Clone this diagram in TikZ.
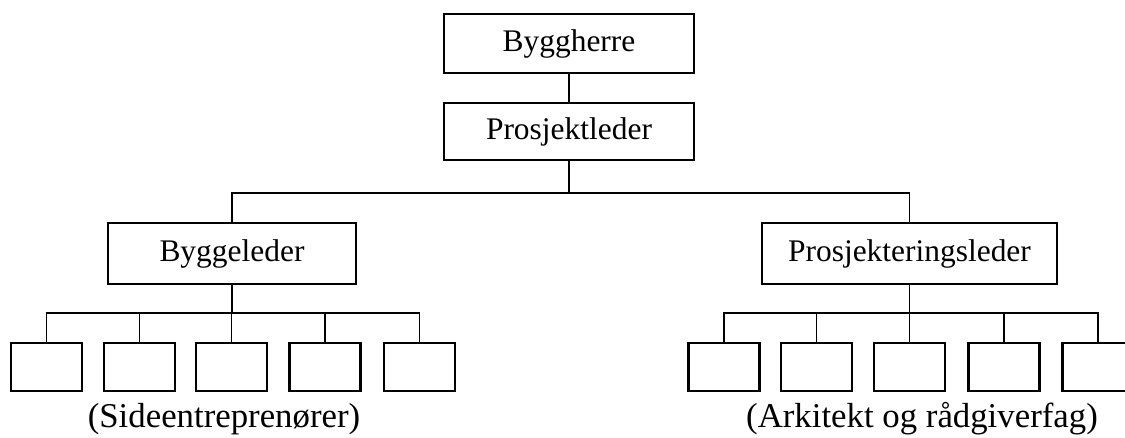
\documentclass[tikz,border=0pt]{standalone}
\usepackage{fontspec}
\setmainfont{Liberation Serif}
\usepackage{tikz}

\begin{document}
\begin{tikzpicture}[x=0.02cm, y=-0.02cm,
    chief/.style={draw=black, line width=1.3pt, minimum height=1.2cm, inner sep=0pt, font=\fontsize{17.9}{20}\selectfont},
    leaf/.style={draw=black, line width=1.3pt, minimum width=1.42cm, minimum height=0.96cm, inner sep=0pt},
    wire/.style={draw=black, line width=0.6pt},
    groupnote/.style={anchor=base, font=\fontsize{19.8}{22}\selectfont}]
\useasboundingbox (0,0) rectangle (1125,438);
\clip (0,0) rectangle (1125,438);

\node[chief, minimum width=5cm, minimum height=1.19cm] (byggherre) at (569, 43.5) {Byggherre};
\node[chief, minimum width=5cm, minimum height=1.14cm] (prosjektleder) at (569, 131.5) {Prosjektleder};
\node[chief, minimum width=4.96cm, minimum height=1.22cm] (byggeleder) at (232, 253.5) {Byggeleder};
\node[chief, minimum width=5.9cm, minimum height=1.22cm] (prosjleder) at (909.5, 253.5) {Prosjekteringsleder};

\coordinate (topbus) at (0,193);
\coordinate (leftbus) at (0,313);
\coordinate (rightbus) at (0,313);

\node[leaf] (side1) at (46.5, 367) {};
\node[leaf] (side2) at (139.5, 367) {};
\node[leaf] (side3) at (231.5, 367) {};
\node[leaf] (side4) at (325, 367) {};
\node[leaf] (side5) at (419.5, 367) {};

\node[leaf] (fag1) at (724, 367) {};
\node[leaf] (fag2) at (816.5, 367) {};
\node[leaf] (fag3) at (909.5, 367) {};
\node[leaf] (fag4) at (1004, 367) {};
\node[leaf] (fag5) at (1098, 367) {};

\draw[wire] (byggherre) -- (prosjektleder);
\draw[wire] (prosjektleder.south) -- (prosjektleder.south |- topbus);
\draw[wire] (byggeleder.north) |- (prosjleder.north |- topbus) -- (prosjleder.north);

\draw[wire] (byggeleder.south) -- (byggeleder.south |- leftbus);
\draw[wire] (side1.north) |- (side5.north |- leftbus) -- (side5.north);
\draw[wire] (side2.north) -- (side2.north |- leftbus);
\draw[wire] (side3.north) -- (side3.north |- leftbus);
\draw[wire] (side4.north) -- (side4.north |- leftbus);

\draw[wire] (prosjleder.south) -- (prosjleder.south |- rightbus);
\draw[wire] (fag1.north) |- (fag5.north |- rightbus) -- (fag5.north);
\draw[wire] (fag2.north) -- (fag2.north |- rightbus);
\draw[wire] (fag3.north) -- (fag3.north |- rightbus);
\draw[wire] (fag4.north) -- (fag4.north |- rightbus);

\node[groupnote] (sidenote) at (224, 428) {(Sideentreprenører)};
\node[groupnote] (fagnote) at (922, 428) {(Arkitekt og rådgiverfag)};

\end{tikzpicture}
\end{document}
